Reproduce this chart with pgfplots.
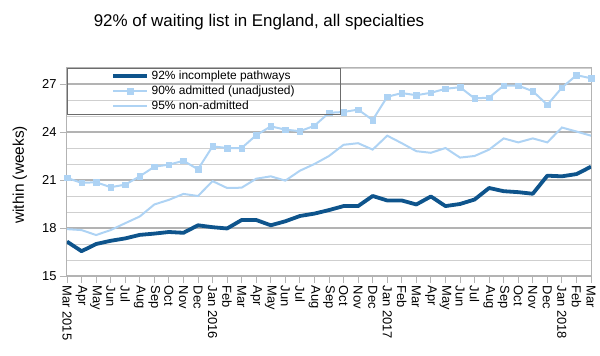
\documentclass[border=0pt]{standalone}
\usepackage{fontspec}
\setmainfont{Liberation Sans}
\usepackage{pgfplots}
\pgfplotsset{compat=1.18}
\definecolor{darkb}{HTML}{0E548C}
\definecolor{lightb}{HTML}{AED3F4}
\definecolor{gridmaj}{HTML}{B3B3B3}
\definecolor{gridmin}{HTML}{CFCFCF}
\begin{document}
\begin{tikzpicture}
\begin{axis}[
  name=ax,
  scale only axis,
  width=524bp, height=208bp,
  xmin=0, xmax=36, ymin=15, ymax=28,
  /pgf/number format/assume math mode=true,
  ytick={15,18,21,24,27},
  minor ytick={16,17,19,20,22,23,25,26,28},
  ymajorgrids, yminorgrids,
  major grid style={draw=gridmaj, line width=1.3bp},
  minor grid style={draw=gridmin, line width=0.8bp},
  axis line style={draw=gridmaj, line width=1bp},
  tick align=outside,
  major tick length=7bp,
  minor tick length=0bp,
  tick style={draw=gridmaj, line width=0.8bp},
  xtick pos=bottom, ytick pos=left,
  xtick={0,...,36},
  xticklabels={Mar 2015,Apr,May,Jun,Jul,Aug,Sep,Oct,Nov,Dec,Jan 2016,Feb,Mar,Apr,May,Jun,Jul,Aug,Sep,Oct,Nov,Dec,Jan 2017,Feb,Mar,Apr,May,Jun,Jul,Aug,Sep,Oct,Nov,Dec,Jan 2018,Feb,Mar},
  x tick label style={rotate=-90, anchor=west, font=\fontsize{13}{15}\selectfont, inner sep=2.5bp},
  y tick label style={font=\fontsize{13}{15}\selectfont},
  ylabel={within (weeks)},
  ylabel style={at={(axis description cs:-0.0897,0.486)}, anchor=center, font=\fontsize{15.5}{18}\selectfont},
  legend cell align=left,
  legend style={at={(0,1)}, anchor=north west, draw=gray!85!black, line width=0.8bp, fill=none,
    inner xsep=44bp, inner ysep=0.5bp,
    font=\fontsize{12}{14}\selectfont,
    nodes={text height=9bp, text depth=3bp, inner sep=1.5bp},
    column sep=1bp, row sep=0pt},
  legend image code/.code={\draw[mark repeat=2,mark phase=2,#1] plot coordinates {(0bp,0bp) (17bp,0bp) (34bp,0bp)};},
]
\addplot[darkb, line width=3.8bp, line join=round] coordinates {
(0,17.15) (1,16.55) (2,17.0) (3,17.2) (4,17.35) (5,17.57) (6,17.65) (7,17.75) (8,17.7) (9,18.17)
(10,18.05) (11,17.97) (12,18.5) (13,18.5) (14,18.17) (15,18.42) (16,18.75) (17,18.9) (18,19.12) (19,19.37)
(20,19.37) (21,20.0) (22,19.72) (23,19.72) (24,19.47) (25,19.97) (26,19.37) (27,19.5) (28,19.78) (29,20.5)
(30,20.3) (31,20.24) (32,20.14) (33,21.27) (34,21.23) (35,21.37) (36,21.83)};
\addlegendentry{92\% incomplete pathways}
\addplot[lightb, line width=2bp, mark=square*, mark size=2.8bp, mark options={fill=lightb, draw=lightb, line width=0.5bp}] coordinates {
(0,21.13) (1,20.82) (2,20.86) (3,20.55) (4,20.71) (5,21.23) (6,21.83) (7,21.96) (8,22.2) (9,21.67)
(10,23.1) (11,23.0) (12,23.0) (13,23.8) (14,24.35) (15,24.15) (16,24.05) (17,24.39) (18,25.2) (19,25.25)
(20,25.4) (21,24.75) (22,26.2) (23,26.43) (24,26.3) (25,26.45) (26,26.7) (27,26.8) (28,26.1) (29,26.15)
(30,26.9) (31,26.9) (32,26.55) (33,25.7) (34,26.77) (35,27.55) (36,27.36)};
\addlegendentry{90\% admitted (unadjusted)}
\addplot[lightb, line width=2bp] coordinates {
(0,17.93) (1,17.87) (2,17.56) (3,17.87) (4,18.3) (5,18.72) (6,19.47) (7,19.76) (8,20.13) (9,20.0)
(10,20.93) (11,20.5) (12,20.52) (13,21.08) (14,21.23) (15,20.96) (16,21.58) (17,22.0) (18,22.5) (19,23.2)
(20,23.3) (21,22.9) (22,23.77) (23,23.3) (24,22.8) (25,22.7) (26,23.0) (27,22.4) (28,22.5) (29,22.9)
(30,23.6) (31,23.35) (32,23.6) (33,23.35) (34,24.28) (35,24.03) (36,23.77)};
\addlegendentry{95\% non-admitted}
\end{axis}
\node[font=\fontsize{17}{20}\selectfont] at ([xshift=192bp,yshift=46bp]ax.north west) {92\% of waiting list in England, all specialties};
\pgfresetboundingbox
\path ([xshift=-67bp,yshift=-80bp]ax.south west) rectangle ++(600bp,356bp);
\end{tikzpicture}
\end{document}
